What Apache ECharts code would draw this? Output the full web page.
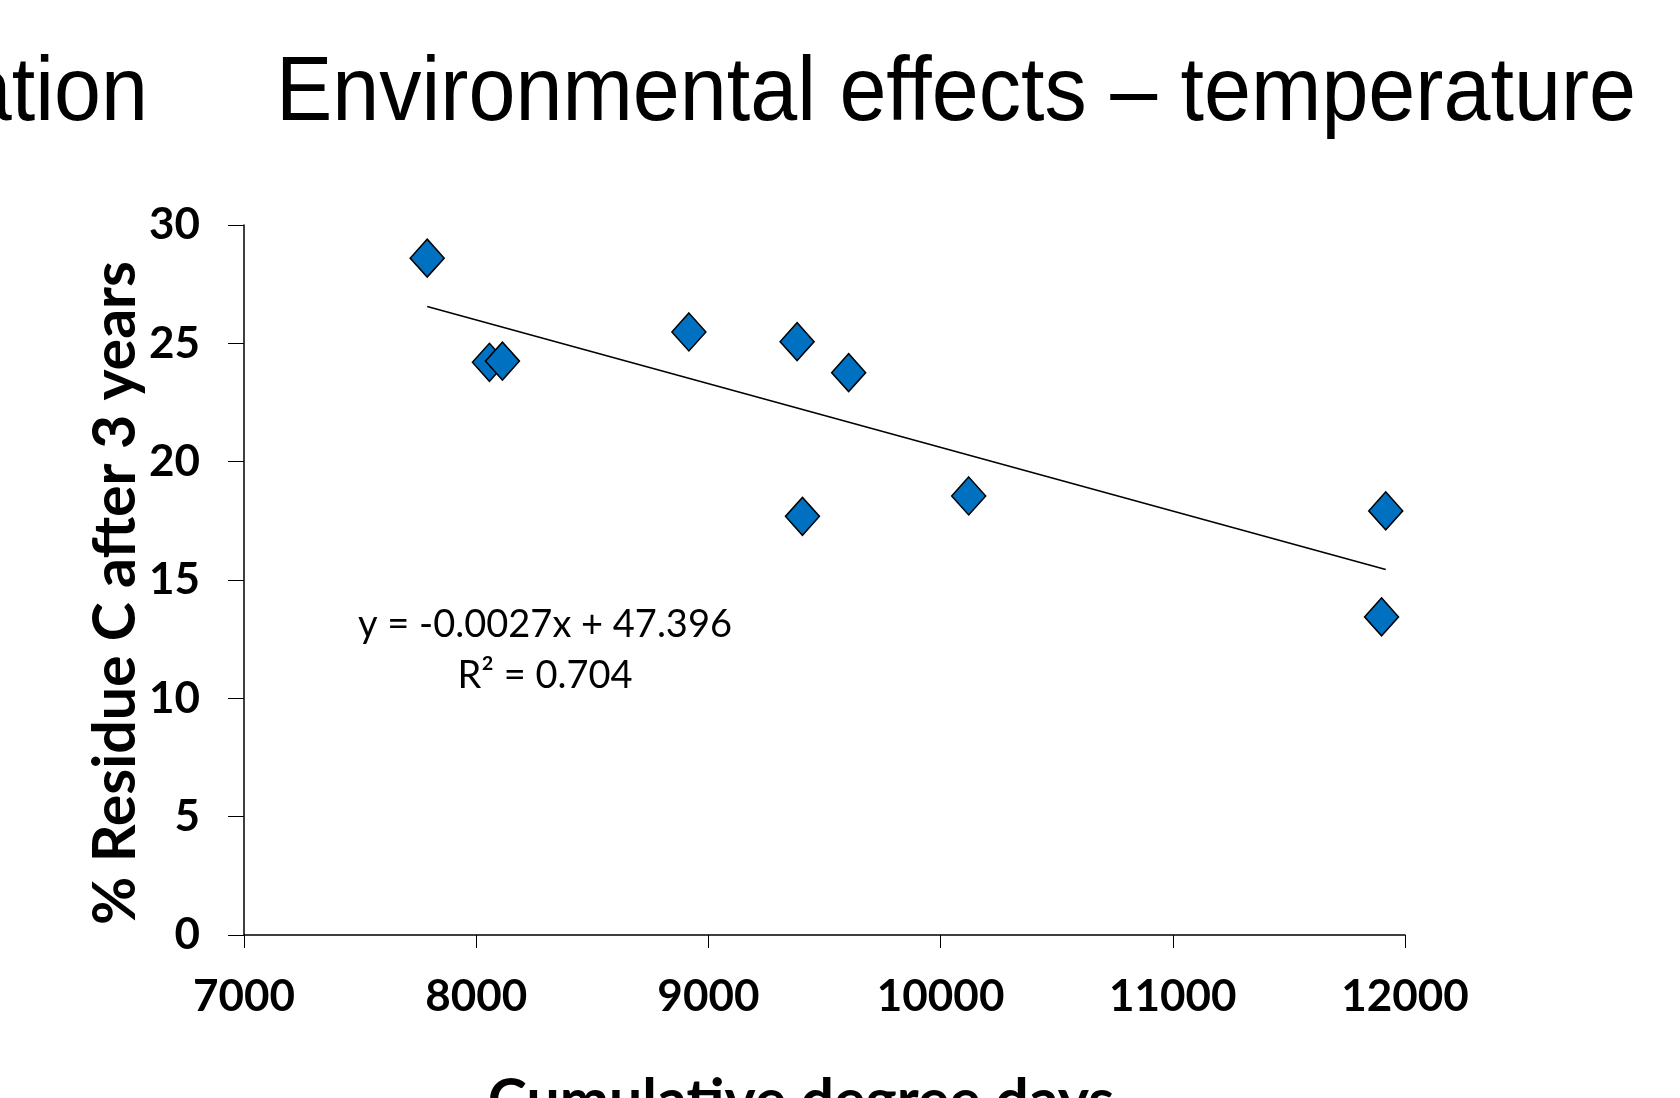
<!DOCTYPE html>
<html>
<head>
<meta charset="utf-8">
<script src="https://cdn.jsdelivr.net/npm/echarts@6/dist/echarts.min.js"></script>
<style>
html,body{margin:0;padding:0;background:#fff;}
#c{width:1680px;height:1098px;}
</style>
</head>
<body>
<div id="c"></div>
<script>
// Data
const degreeDays = [7789, 8057, 8113, 8916, 9382, 9604, 9405, 10121, 11917, 11899];
const residueC   = [28.6, 24.2, 24.25, 25.48, 25.07, 23.76, 17.69, 18.55, 17.92, 13.44];
const xTicks = [7000, 8000, 9000, 10000, 11000, 12000];
const yTicks = [0, 5, 10, 15, 20, 25, 30];
const equationText = 'y = -0.0027x + 47.396';
const r2Text = 'R² = 0.704';
const titleText = 'Environmental effects – temperature';
const prevTitleFragment = 'ation';
const xName = 'Cumulative degree days';
const yName = '% Residue C after 3 years';

const points = degreeDays.map((x, i) => [x, residueC[i]]);

// least-squares linear trendline fitted to the data points
const n = degreeDays.length;
const mx = degreeDays.reduce((a, b) => a + b, 0) / n;
const my = residueC.reduce((a, b) => a + b, 0) / n;
let sxy = 0, sxx = 0;
for (let i = 0; i < n; i++) {
  sxy += (degreeDays[i] - mx) * (residueC[i] - my);
  sxx += (degreeDays[i] - mx) * (degreeDays[i] - mx);
}
const slope = sxy / sxx;
const intercept = my - slope * mx;
const xMinData = Math.min(...degreeDays);
const xMaxData = Math.max(...degreeDays);
const trend = [xMinData, xMaxData].map(x => [x, slope * x + intercept]);

// text measuring helper (for fitting text widths)
const mctx = document.createElement('canvas').getContext('2d');
function measure(text, font) { mctx.font = font; return mctx.measureText(text).width; }

const titleFamily = '"Liberation Sans", Arial, sans-serif';
const titleFont = '90px ' + titleFamily;
const titleScale = 1360 / measure(titleText, titleFont);

const boldFamily = 'Lato, "Open Sans", sans-serif';
const nameSize = Math.round(44 * 662 / measure(yName, 'bold 44px ' + boldFamily));

const chart = echarts.init(document.getElementById('c'));
chart.setOption({
  animation: false,
  backgroundColor: '#ffffff',
  grid: { left: 244, right: 275, top: 225, bottom: 163, containLabel: false, outerBoundsMode: 'none' },
  xAxis: {
    type: 'value',
    min: xTicks[0], max: xTicks[xTicks.length - 1], interval: 1000,
    splitLine: { show: false },
    axisLine: { lineStyle: { color: '#000', width: 1.5 } },
    axisTick: { show: true, length: 13, lineStyle: { color: '#000', width: 1 } },
    axisLabel: { color: '#000', fontFamily: boldFamily, fontWeight: 'bold', fontSize: 44, margin: 40,
                 formatter: v => String(v) }
  },
  yAxis: {
    type: 'value',
    min: yTicks[0], max: yTicks[yTicks.length - 1], interval: 5,
    splitLine: { show: false },
    axisLine: { show: true, lineStyle: { color: '#000', width: 1.5 } },
    axisTick: { show: true, length: 16, lineStyle: { color: '#000', width: 1 } },
    axisLabel: { color: '#000', fontFamily: boldFamily, fontWeight: 'bold', fontSize: 44, margin: 44,
                 formatter: v => String(v) }
  },
  graphic: [
    { type: 'text', x: 276, y: 50, scaleX: titleScale,
      style: { text: titleText, font: titleFont, fill: '#000', textAlign: 'left', textVerticalAlign: 'top' } },
    { type: 'text', x: 148, y: 50, scaleX: titleScale,
      style: { text: prevTitleFragment, font: titleFont, fill: '#000', textAlign: 'right', textVerticalAlign: 'top' } },
    { type: 'text', x: 116, y: 593, rotation: Math.PI / 2,
      style: { text: yName, font: 'bold ' + nameSize + 'px ' + boldFamily, fill: '#000', textAlign: 'center', textVerticalAlign: 'middle' } },
    { type: 'text', x: 801, y: 1072,
      style: { text: xName, font: 'bold ' + nameSize + 'px ' + boldFamily, fill: '#000', textAlign: 'center', textVerticalAlign: 'top' } },
    { type: 'text', x: 545, y: 625,
      style: { text: equationText, font: '38px Lato, "Open Sans", sans-serif', fill: '#000', textAlign: 'center', textVerticalAlign: 'middle' } },
    { type: 'text', x: 545, y: 676,
      style: { text: r2Text, font: '38px Lato, "Open Sans", sans-serif', fill: '#000', textAlign: 'center', textVerticalAlign: 'middle' } }
  ],
  series: [
    {
      type: 'line', data: trend, symbol: 'none', silent: true,
      lineStyle: { color: '#000', width: 1.6 }, z: 2
    },
    {
      type: 'scatter', data: points, symbol: 'diamond', symbolSize: [34, 38],
      itemStyle: { color: '#0070C0', borderColor: '#000', borderWidth: 1.5, opacity: 1 }, z: 3
    }
  ]
});
</script>
</body>
</html>
